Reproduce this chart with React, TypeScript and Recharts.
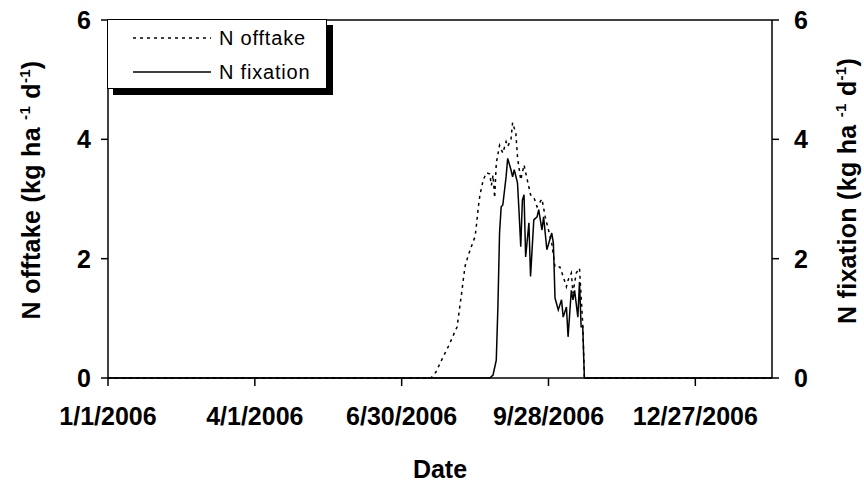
import React from 'react';
import { LineChart, Line, XAxis, YAxis, Legend, ReferenceLine } from 'recharts';

// x values are days since 1/1/2006
const xTicks = [0, 90, 180, 270, 360];
const xTickLabels = ['1/1/2006', '4/1/2006', '6/30/2006', '9/28/2006', '12/27/2006'];
const yTicks = [0, 2, 4, 6];
const legendOrder = ['N offtake', 'N fixation'];

const offtakeDays = [0, 198, 201, 205, 209, 214, 216, 217, 218, 219, 221, 224, 225, 226, 227, 228, 230, 232, 234, 235, 236, 237, 238, 240, 242, 244, 245, 247, 248, 250, 251, 253, 255, 257, 259, 261, 263, 266, 268, 270, 272, 274, 277, 279, 281, 282, 284, 285, 287, 289, 291, 292, 407];
const offtakeValues = [0, 0, 0.1, 0.33, 0.55, 0.86, 1.27, 1.47, 1.7, 1.89, 2.07, 2.3, 2.37, 2.6, 2.87, 3.07, 3.32, 3.44, 3.42, 3.23, 3.4, 3.02, 3.6, 3.9, 3.77, 3.96, 3.88, 4.0, 4.28, 4.1, 3.7, 3.32, 3.57, 3.32, 3.07, 3.03, 2.87, 3.0, 2.7, 2.48, 2.26, 1.86, 1.86, 1.7, 1.53, 1.64, 1.76, 1.42, 1.76, 1.84, 0.9, 0, 0];

const fixationDays = [0, 234, 236, 238, 239, 240, 241, 242, 244, 245, 247, 248, 249, 251, 252, 253, 254, 255, 256, 258, 259, 261, 263, 264, 266, 267, 269, 272, 273, 274, 276, 278, 279, 281, 282, 284, 285, 286, 288, 289, 290, 291, 292, 407];
const fixationValues = [0, 0, 0.05, 0.3, 1.2, 2.43, 2.87, 2.9, 3.37, 3.68, 3.49, 3.37, 3.49, 3.27, 2.76, 2.2, 2.98, 3.07, 2.03, 2.6, 1.7, 2.65, 2.7, 2.82, 2.48, 2.7, 2.15, 2.43, 2.26, 1.34, 1.14, 1.31, 1.02, 1.19, 0.69, 1.47, 1.31, 1.47, 1.02, 1.61, 0.86, 0.86, 0, 0];

const offtakeData = offtakeDays.map((day, i) => ({ day, value: offtakeValues[i] }));
const fixationData = fixationDays.map((day, i) => ({ day, value: fixationValues[i] }));

const FONT = "'Liberation Sans', Arial, sans-serif";
const DOTTED = '3 4';
const dashByName: Record<string, string | undefined> = { 'N offtake': DOTTED, 'N fixation': undefined };

const tickStyle = { fontFamily: FONT, fontSize: 25, fontWeight: 'bold', fill: '#000' };
const lineStyle = { stroke: '#000', strokeWidth: 1.5 };

const VerticalTitle = ({ cx, cy, name }: { cx: number; cy: number; name: string }) => (
  <text
    x={cx}
    y={cy}
    transform={`rotate(-90, ${cx}, ${cy})`}
    textAnchor="middle"
    fontFamily={FONT}
    fontSize={25}
    fontWeight="bold"
    letterSpacing={0.3}
    fill="#000"
  >
    {name} (kg ha <tspan dy={-10} fontSize={15}>-1</tspan>
    <tspan dy={10}> d</tspan>
    <tspan dy={-10} fontSize={15}>-1</tspan>
    <tspan dy={10}>)</tspan>
  </text>
);

const renderLegend = (props: any) => {
  const items = [...(props.payload || [])].sort(
    (a: any, b: any) => legendOrder.indexOf(a.value) - legendOrder.indexOf(b.value)
  );
  return (
    <div
      style={{
        width: 220,
        height: 70,
        boxSizing: 'border-box',
        border: '1px solid #000',
        background: '#fff',
        boxShadow: '6px 6px 0 #000',
        fontFamily: FONT,
        fontSize: 20,
        paddingTop: 1,
      }}
    >
      {items.map((entry: any) => (
        <div key={entry.value} style={{ display: 'flex', alignItems: 'center', height: 34 }}>
          <svg width={78} height={10} style={{ marginLeft: 25, marginRight: 8 }}>
            <line x1={0} y1={5} x2={78} y2={5} stroke="#000" strokeWidth={1.5} strokeDasharray={dashByName[entry.value]} />
          </svg>
          <span style={{ letterSpacing: 0.8 }}>{entry.value}</span>
        </div>
      ))}
    </div>
  );
};

export default function App() {
  return (
    <div style={{ position: 'absolute', left: 0, top: 0, background: '#fff' }}>
      <LineChart width={864} height={486} margin={{ top: 20, right: 0, bottom: 0, left: 0 }}>
        <XAxis
          dataKey="day"
          type="number"
          domain={[0, 407]}
          ticks={xTicks}
          tickFormatter={(d: number) => xTickLabels[xTicks.indexOf(d)]}
          height={108}
          tickSize={8}
          tickMargin={21}
          tick={tickStyle}
          axisLine={lineStyle}
          tickLine={lineStyle}
          label={{
            content: (p: any) => (
              <text
                x={p.viewBox.x + p.viewBox.width / 2}
                y={p.viewBox.y + 100}
                textAnchor="middle"
                fontFamily={FONT}
                fontSize={25}
                fontWeight="bold"
                fill="#000"
              >
                Date
              </text>
            ),
          }}
        />
        <YAxis
          yAxisId="left"
          domain={[0, 6]}
          ticks={yTicks}
          width={108}
          tickSize={7}
          tickMargin={10}
          tick={tickStyle}
          axisLine={lineStyle}
          tickLine={lineStyle}
          label={{ content: () => <VerticalTitle cx={40} cy={190} name="N offtake" /> }}
        />
        <YAxis
          yAxisId="right"
          orientation="right"
          domain={[0, 6]}
          ticks={yTicks}
          width={92}
          tickSize={7}
          tickMargin={15}
          tick={tickStyle}
          axisLine={lineStyle}
          tickLine={lineStyle}
          label={{ content: () => <VerticalTitle cx={856} cy={191} name="N fixation" /> }}
        />
        <ReferenceLine yAxisId="left" y={6} stroke="#000" strokeWidth={1.5} />
        <Line
          yAxisId="left"
          data={offtakeData}
          dataKey="value"
          name="N offtake"
          type="linear"
          stroke="#000"
          strokeWidth={1.5}
          strokeDasharray={DOTTED}
          dot={false}
          isAnimationActive={false}
        />
        <Line
          yAxisId="right"
          data={fixationData}
          dataKey="value"
          name="N fixation"
          type="linear"
          stroke="#000"
          strokeWidth={1.5}
          dot={false}
          isAnimationActive={false}
        />
        <Legend
          layout="horizontal"
          verticalAlign="middle"
          content={renderLegend}
          wrapperStyle={{ position: 'absolute', left: 107, top: 19, width: 220, height: 70 }}
        />
      </LineChart>
    </div>
  );
}
